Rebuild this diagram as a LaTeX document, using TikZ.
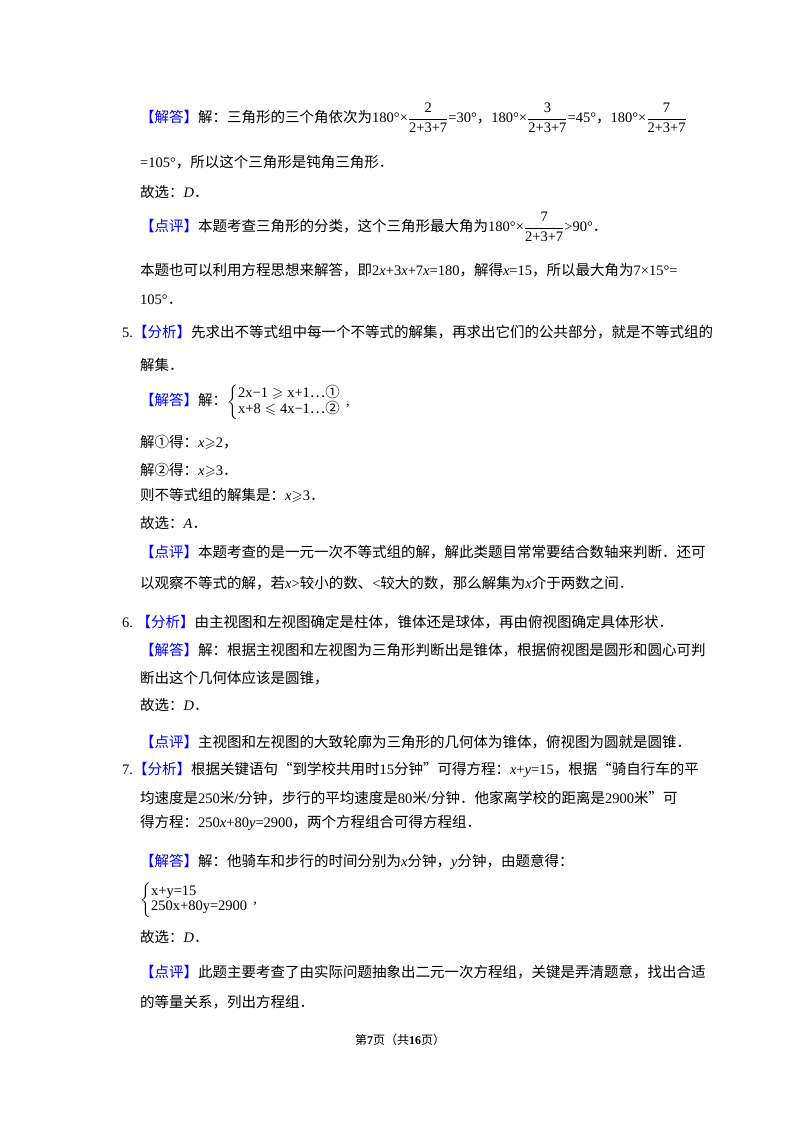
\documentclass[tikz,border=0pt]{standalone}
\usepackage{amsmath,amssymb}
\usepackage{fontspec}
\setmainfont{Noto Sans CJK SC}
\newfontfamily\en{Liberation Serif}
\definecolor{lblue}{RGB}{0,0,255}
\newcommand{\tg}[1]{{\color{lblue}【#1】}}
\newcommand{\E}[1]{{\en #1}}
\newcommand{\I}[1]{{\en\itshape #1}}
\newcommand{\fr}[1]{$\dfrac{\text{\en #1}}{\text{\en 2+3+7}}$}
\begin{document}
\begin{tikzpicture}[x=1pt,y=-1pt,
  ln/.style={anchor=west,inner sep=0pt,font=\fontsize{14.5}{17}\selectfont}]
\useasboundingbox[fill=white] (0,0) rectangle (800,1132);
\node[ln] (l1) at (140,118) {\tg{解答}解：三角形的三个角依次为\E{180°×}\fr{2}\E{=30°}，\E{180°×}\fr{3}\E{=45°}，\E{180°×}\fr{7}};
\node[ln] (l2) at (140,162) {\E{=105°}，所以这个三角形是钝角三角形．};
\node[ln] (l3) at (140,192) {故选：\I{D}．};
\node[ln] (l4) at (140,227) {\tg{点评}本题考查三角形的分类，这个三角形最大角为\E{180°×}\fr{7}\E{>90°}．};
\node[ln] (l5) at (140,270) {本题也可以利用方程思想来解答，即\E{2\I{x}+3\I{x}+7\I{x}=180}，解得\E{\I{x}=15}，所以最大角为\E{7×15°=}};
\node[ln] (l6) at (140,300) {\E{105°}．};
\node[ln] (l7) at (122,332) {\E{5.}\tg{分析}先求出不等式组中每一个不等式的解集，再求出它们的公共部分，就是不等式组的};
\node[ln] (l8) at (140,365) {解集．};
\node[ln] (l9) at (140,402) {\tg{解答}解：$\left\{\begin{array}{@{}l}\text{\en 2x−1}\geqslant\text{\en x+1}\text{…①}\\[-2pt] \text{\en x+8}\leqslant\text{\en 4x−1}\text{…②}\end{array}\right.$\E{,}};
\node[ln] (l10) at (140,442) {解①得：\I{x}$\geqslant$\E{2}，};
\node[ln] (l11) at (140,470) {解②得：\I{x}$\geqslant$\E{3}．};
\node[ln] (l12) at (140,495) {则不等式组的解集是：\I{x}$\geqslant$\E{3}．};
\node[ln] (l13) at (140,523) {故选：\I{A}．};
\node[ln] (l14) at (140,552) {\tg{点评}本题考查的是一元一次不等式组的解，解此类题目常常要结合数轴来判断．还可};
\node[ln] (l15) at (140,583) {以观察不等式的解，若\I{x}\E{>}较小的数、\E{<}较大的数，那么解集为\I{x}介于两数之间．};
\node[ln] (l16) at (122,622) {\E{6.\ }\tg{分析}由主视图和左视图确定是柱体，锥体还是球体，再由俯视图确定具体形状．};
\node[ln] (l17) at (140,650) {\tg{解答}解：根据主视图和左视图为三角形判断出是锥体，根据俯视图是圆形和圆心可判};
\node[ln] (l18) at (140,678) {断出这个几何体应该是圆锥，};
\node[ln] (l19) at (140,705) {故选：\I{D}．};
\node[ln] (l20) at (140,742) {\tg{点评}主视图和左视图的大致轮廓为三角形的几何体为锥体，俯视图为圆就是圆锥．};
\node[ln] (l21) at (122,770) {\E{7.}\tg{分析}根据关键语句“到学校共用时\E{15}分钟”可得方程：\E{\I{x}+\I{y}=15}，根据“骑自行车的平};
\node[ln] (l22) at (140,798) {均速度是\E{250}米\E{/}分钟，步行的平均速度是\E{80}米\E{/}分钟．他家离学校的距离是\E{2900}米”可};
\node[ln] (l23) at (140,823) {得方程：\E{250\I{x}+80\I{y}=2900}，两个方程组合可得方程组．};
\node[ln] (l24) at (140,862) {\tg{解答}解：他骑车和步行的时间分别为\I{x}分钟，\I{y}分钟，由题意得：};
\node[ln] (l25) at (140,900) {$\left\{\begin{array}{@{}l}\text{\en x+y=15}\\[-2pt] \text{\en 250x+80y=2900}\end{array}\right.$\E{,}};
\node[ln] (l26) at (140,937) {故选：\I{D}．};
\node[ln] (l27) at (140,972) {\tg{点评}此题主要考查了由实际问题抽象出二元一次方程组，关键是弄清题意，找出合适};
\node[ln] (l28) at (140,1002) {的等量关系，列出方程组．};
\node[inner sep=0pt,font=\fontsize{12}{14}\selectfont] (ft) at (400,1040) {第\E{\bfseries 7}页（共\E{\bfseries 16}页）};
\end{tikzpicture}
\end{document}
